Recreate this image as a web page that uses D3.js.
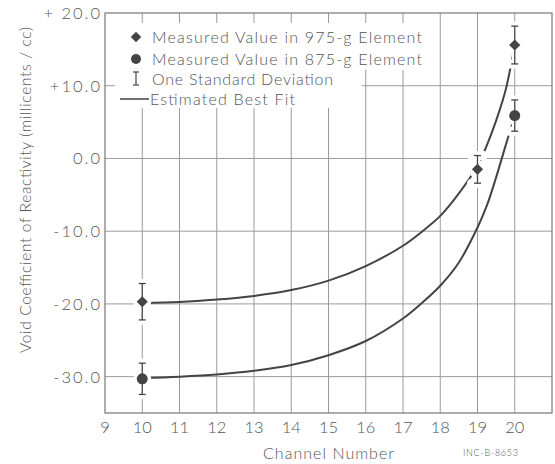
<!DOCTYPE html>
<html>
<head>
<meta charset="utf-8">
<script src="https://cdn.jsdelivr.net/npm/d3@7"></script>
<style>
  html, body { margin: 0; padding: 0; background: #fff; }
  svg { display: block; }
  text { font-family: Lato, "Open Sans", sans-serif; font-weight: 300; fill: #555; }
</style>
</head>
<body>
<svg id="chart" width="555" height="464"></svg>
<script>
// Channel positions and axis ticks
const xTicks = [9, 10, 11, 12, 13, 14, 15, 16, 17, 18, 19, 20];
const yTicks = [20, 10, 0, -10, -20, -30];
const yTickLabels = ["+ 20.0", "+10.0", "0.0", "-10.0", "-20.0", "-30.0"];

// Measured void coefficients (millicents/cc) with one standard deviation
const channels975 = [10, 19, 20];
const values975 = [-19.7, -1.5, 15.6];
const sd975 = [2.5, 1.9, 2.6];

const channels875 = [10, 20];
const values875 = [-30.3, 5.9];
const sd875 = [2.15, 2.15];

// Estimated best-fit curves
const fitX975 = [10, 11, 12, 13, 14, 15, 16, 17, 17.5, 18, 18.5, 19, 19.25, 19.5, 19.75, 20];
const fitY975 = [-19.9, -19.75, -19.4, -18.9, -18.1, -16.8, -14.8, -12.0, -10.1, -7.9, -4.8, -1.0, 1.8, 5.2, 9.3, 15.6];

const fitX875 = [10, 11, 12, 13, 14, 15, 16, 17, 17.5, 18, 18.5, 19, 19.25, 19.5, 19.75, 20];
const fitY875 = [-30.2, -30.0, -29.7, -29.2, -28.4, -27.05, -25.1, -22.0, -19.9, -17.5, -14.3, -9.5, -6.5, -2.6, 1.7, 5.9];

const legendRows = [
  "Measured Value in 975-g Element",
  "Measured Value in 875-g Element",
  "One Standard Deviation",
  "Estimated Best Fit"
];

const ink = "#444", grid = "#9a9a9a";
const svg = d3.select("#chart");

const x = d3.scaleLinear().domain([9, 21]).range([105, 552]);
const y = d3.scaleLinear().domain([-35, 20]).range([413, 13]);

// grid
svg.append("g").selectAll("line").data(xTicks.slice(1)).join("line")
  .attr("x1", d => x(d)).attr("x2", d => x(d))
  .attr("y1", y(20)).attr("y2", y(-35))
  .attr("stroke", grid).attr("stroke-width", 1);
svg.append("g").selectAll("line").data(yTicks.filter(d => d < 20)).join("line")
  .attr("x1", x(9)).attr("x2", x(21))
  .attr("y1", d => y(d)).attr("y2", d => y(d))
  .attr("stroke", grid).attr("stroke-width", 1);

// fit curves
const line = d3.line().curve(d3.curveCatmullRom.alpha(0.5)).x(d => x(d[0])).y(d => y(d[1]));
[[fitX975, fitY975], [fitX875, fitY875]].forEach(([xs, ys]) => {
  svg.append("path")
    .attr("d", line(xs.map((v, i) => [v, ys[i]])))
    .attr("fill", "none").attr("stroke", ink).attr("stroke-width", 2);
});

// error bars and markers
function points(chs, vals, sds, shape) {
  const pts = chs.map((c, i) => ({ c, v: vals[i], s: sds[i] }));
  const grp = svg.append("g");
  // white halo that breaks grid and curves around each measurement
  pts.forEach(p => {
    const cx = x(p.c), t = y(p.v + p.s), b = y(p.v - p.s);
    grp.append("line").attr("x1", cx).attr("x2", cx).attr("y1", t).attr("y2", b)
      .attr("stroke", "#fff").attr("stroke-width", 6);
    [t, b].forEach(yy => grp.append("line").attr("x1", cx - 6).attr("x2", cx + 6)
      .attr("y1", yy).attr("y2", yy).attr("stroke", "#fff").attr("stroke-width", 9)
      .attr("stroke-linecap", "round"));
    grp.append("circle").attr("cx", cx).attr("cy", y(p.v)).attr("r", 9).attr("fill", "#fff");
  });
  pts.forEach(p => {
    const cx = x(p.c), t = y(p.v + p.s), b = y(p.v - p.s);
    grp.append("line").attr("x1", cx).attr("x2", cx).attr("y1", t).attr("y2", b)
      .attr("stroke", ink).attr("stroke-width", 1.3);
    [t, b].forEach(yy => grp.append("line").attr("x1", cx - 3.5).attr("x2", cx + 3.5)
      .attr("y1", yy).attr("y2", yy).attr("stroke", ink).attr("stroke-width", 1.3));
    const sym = shape === "diamond"
      ? d3.symbol().type(d3.symbolDiamond2).size(80)
      : d3.symbol().type(d3.symbolCircle).size(95);
    grp.append("path").attr("d", sym())
      .attr("transform", `translate(${cx},${y(p.v)})`)
      .attr("fill", ink);
  });
}
points(channels975, values975, sd975, "diamond");
points(channels875, values875, sd875, "circle");

// legend background
svg.append("path")
  .attr("d", "M115,23 H428 V70 H362 V108 H115 Z")
  .attr("fill", "#fff");

const leg = svg.append("g");
const rowY = [37, 59, 79, 99];
leg.append("path").attr("d", d3.symbol().type(d3.symbolDiamond2).size(70)())
  .attr("transform", `translate(136,${rowY[0]})`).attr("fill", ink);
leg.append("circle").attr("cx", 136).attr("cy", rowY[1]).attr("r", 5).attr("fill", ink);
leg.append("line").attr("x1", 136).attr("x2", 136).attr("y1", rowY[2] - 7).attr("y2", rowY[2] + 6)
  .attr("stroke", ink).attr("stroke-width", 1.2);
[rowY[2] - 7, rowY[2] + 6].forEach(yy => leg.append("line").attr("x1", 133).attr("x2", 139)
  .attr("y1", yy).attr("y2", yy).attr("stroke", ink).attr("stroke-width", 1.2));
leg.append("line").attr("x1", 120).attr("x2", 149).attr("y1", rowY[3]).attr("y2", rowY[3])
  .attr("stroke", ink).attr("stroke-width", 1.5);
const rowX = [152, 152, 152, 150];
const rowLen = [270, 270, 181, 145];
leg.selectAll("text").data(legendRows).join("text")
  .attr("x", (d, i) => rowX[i]).attr("y", (d, i) => rowY[i])
  .attr("dy", "0.36em").attr("font-size", 16)
  .attr("textLength", (d, i) => rowLen[i]).attr("lengthAdjust", "spacing")
  .text(d => d);

// frame
svg.append("rect").attr("x", x(9)).attr("y", y(20))
  .attr("width", x(21) - x(9)).attr("height", y(-35) - y(20))
  .attr("fill", "none").attr("stroke", "#777").attr("stroke-width", 1.2);

// tick labels
svg.selectAll("text.yt").data(yTicks).join("text")
  .attr("class", "yt")
  .attr("x", 102).attr("y", d => y(d)).attr("dy", "0.36em")
  .attr("text-anchor", "end").attr("font-size", 16.5)
  .attr("letter-spacing", 2)
  .text((d, i) => yTickLabels[i]);
svg.selectAll("text.xt").data(xTicks).join("text")
  .attr("class", "xt")
  .attr("x", d => x(d)).attr("y", 427).attr("dy", "0.36em")
  .attr("text-anchor", "middle").attr("font-size", 16.5)
  .text(d => d);

// axis titles
svg.append("text").attr("x", 263).attr("y", 453).attr("dy", "0.36em")
  .attr("font-size", 16).attr("textLength", 131).attr("lengthAdjust", "spacing")
  .text("Channel Number");
svg.append("text").attr("transform", "translate(25,190) rotate(-90)")
  .attr("text-anchor", "middle").attr("dy", "0.36em").attr("font-size", 15.5)
  .attr("textLength", 326).attr("lengthAdjust", "spacing")
  .text("Void Coefficient of Reactivity (millicents / cc)");
svg.append("text").attr("x", 463).attr("y", 453).attr("dy", "0.36em")
  .attr("font-size", 9).attr("textLength", 55).attr("lengthAdjust", "spacing")
  .text("INC-B-8653");
</script>
</body>
</html>
